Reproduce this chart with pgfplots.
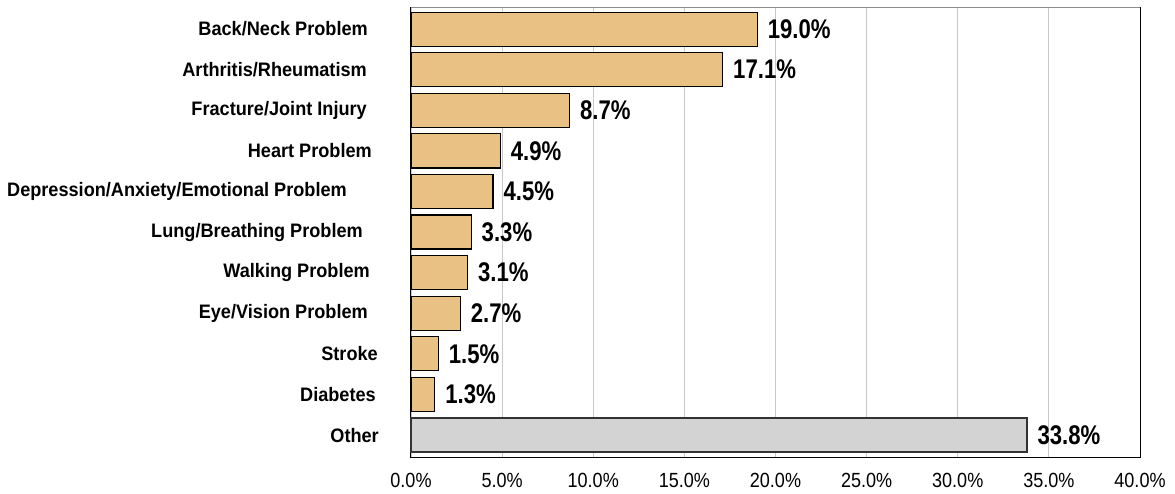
\documentclass[border=0pt]{standalone}
\usepackage{pgfplots}
\pgfplotsset{compat=1.18}
\usepackage{fontspec}
\setmainfont{Liberation Sans}
\newfontfamily\catfont[FakeStretch=0.93]{Liberation Sans}
\newfontfamily\valfont[FakeStretch=0.82]{Liberation Sans}
\newfontfamily\tickfont[FakeStretch=0.88]{Liberation Sans}
\definecolor{tan}{RGB}{233,193,132}
\definecolor{lgray}{RGB}{211,211,211}
\definecolor{gridc}{RGB}{200,200,200}
\begin{document}
\begin{tikzpicture}
\begin{axis}[
  name=ax,
  scale only axis,
  width=729pt, height=449pt,
  xmin=0, xmax=40,
  ymin=-0.54, ymax=10.52,
  xbar, bar width=34pt,
  xtick={0,5,...,40},
  xmajorgrids, grid style={gridc, line width=0.8pt},
  major tick length=0pt,
  /pgf/number format/assume math mode=true,
  xticklabel={\pgfmathprintnumber[fixed,fixed zerofill,precision=1]{\tick}\%},
  xticklabel style={font=\tickfont\fontsize{20.5}{22}\selectfont, inner sep=0pt, anchor=north, yshift=-16pt},
  ytick={0,...,10},
  yticklabels={
    Other,
    Diabetes\hspace*{3pt},
    Stroke\hspace*{1pt},
    Eye/Vision Problem\hspace*{11pt},
    Walking Problem\hspace*{9pt},
    Lung/Breathing Problem\hspace*{16pt},
    Depression/Anxiety/Emotional Problem\hspace*{32pt},
    Heart Problem\hspace*{7pt},
    Fracture/Joint Injury\hspace*{12pt},
    Arthritis/Rheumatism\hspace*{12pt},
    Back/Neck Problem\hspace*{11pt}},
  yticklabel style={font=\catfont\bfseries\fontsize{19.5}{21}\selectfont, inner sep=0pt, anchor=east, xshift=-32pt},
  axis line style={black, line width=1pt},
  point meta=x,
  nodes near coords={\pgfmathprintnumber[fixed,fixed zerofill,precision=1]{\pgfplotspointmeta}\%},
  nodes near coords style={font=\valfont\bfseries\fontsize{27}{28}\selectfont, inner sep=0pt, anchor=west, xshift=10pt},
  clip=false,
]
\addplot[bar shift=0pt, fill=tan, draw=black, line width=1.2pt] coordinates {
  (1.3,1) (1.5,2) (2.7,3) (3.1,4) (3.3,5) (4.5,6) (4.9,7) (8.7,8) (17.1,9) (19.0,10)};
\addplot[bar shift=0pt, fill=lgray, draw=black!80, line width=1.2pt] coordinates {(33.8,0)};
\draw[gridc!70!black, line width=1pt] (rel axis cs:0,1) -- (rel axis cs:1,1);
\end{axis}
\pgfresetboundingbox
\path[use as bounding box] ([xshift=-411pt,yshift=-36pt]ax.south west) rectangle ([xshift=35pt,yshift=8pt]ax.north east);
\end{tikzpicture}
\end{document}
